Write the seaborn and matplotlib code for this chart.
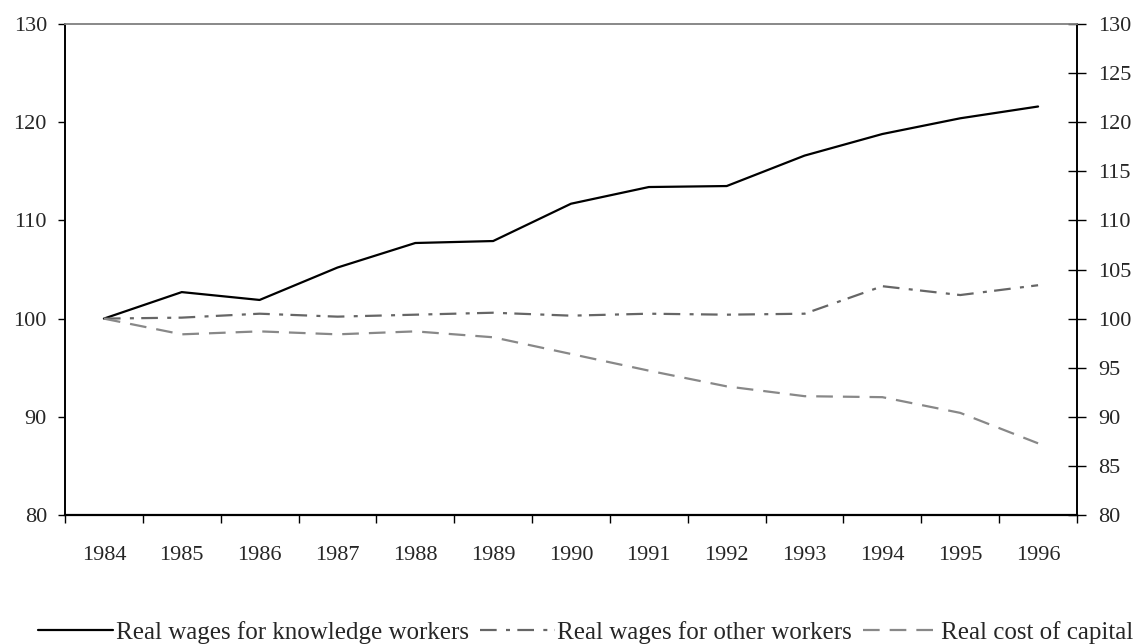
import matplotlib
matplotlib.use("Agg")
import matplotlib.pyplot as plt
import matplotlib.ticker as mticker
import numpy as np
import pandas as pd
import seaborn as sns

# data (index, 1984 = 100)
years = [1984, 1985, 1986, 1987, 1988, 1989, 1990, 1991, 1992, 1993, 1994, 1995, 1996]
knowledge = [100, 102.7, 101.9, 105.2, 107.7, 107.9, 111.7, 113.4, 113.5, 116.6, 118.8, 120.4, 121.6]
other = [100, 100.1, 100.5, 100.2, 100.4, 100.6, 100.3, 100.5, 100.4, 100.5, 103.3, 102.4, 103.4]
capital = [100, 98.4, 98.7, 98.4, 98.7, 98.1, 96.4, 94.7, 93.1, 92.1, 92.0, 90.4, 87.3]

labels = ["Real wages for knowledge workers", "Real wages for other workers", "Real cost of capital"]

df = pd.DataFrame({"year": years, "knowledge": knowledge, "other": other, "capital": capital})

sns.set_style("white")
plt.rcParams['font.family'] = ['Liberation Serif', 'DejaVu Serif']
plt.rcParams['font.size'] = 16

fig = plt.figure(figsize=(11.38, 6.44), dpi=100)
ax = fig.add_axes([0.0571, 0.2003, 0.8893, 0.7624])

sns.lineplot(data=df, x="year", y="knowledge", ax=ax, color="black", lw=1.6,
             label=labels[0])
sns.lineplot(data=df, x="year", y="other", ax=ax, color="#666666", lw=1.6,
             linestyle=(0, (7.5, 4.2, 1.8, 3.3)), label=labels[1])
sns.lineplot(data=df, x="year", y="capital", ax=ax, color="#888888", lw=1.6,
             linestyle=(0, (7.5, 4.5)), label=labels[2])

ax.set_xlim(years[0] - 0.5, years[-1] + 0.5)
ax.set_ylim(80, 130)
ax.set_xlabel("")
ax.set_ylabel("")

# x: labels at year centres, ticks on category boundaries
ax.set_xticks(years)
ax.set_xticklabels([str(y) for y in years])
ax.xaxis.set_minor_locator(mticker.FixedLocator(np.arange(years[0] - 0.5, years[-1] + 1, 1)))
ax.tick_params(axis="x", which="major", length=0, pad=22.5)
ax.tick_params(axis="x", which="minor", length=5.5, width=1, direction="out", color="black", bottom=True)

ax.set_yticks(np.arange(80, 131, 10))
ax.tick_params(axis="y", which="major", length=5, width=1, direction="out", color="black", left=True, pad=8)

ax2 = ax.twinx()
ax2.set_ylim(80, 130)
ax2.set_yticks(np.arange(80, 131, 5))
ax2.tick_params(axis="y", length=13, width=1, direction="inout", color="black", right=True, pad=8.5)

for a in (ax, ax2):
    a.spines["left"].set_color("black")
    a.spines["right"].set_color("black")
    a.spines["bottom"].set_color("black")
    a.spines["top"].set_color("#888888")
    for s in a.spines.values():
        s.set_linewidth(1.2)
ax.spines["bottom"].set_linewidth(1.6)

handles, labs = ax.get_legend_handles_labels()
ax.get_legend().remove()
fig.legend(handles, labs, loc="center", bbox_to_anchor=(0.5145, 0.0186), ncol=3,
           frameon=False, handlelength=3.0, handletextpad=0.1, columnspacing=0.45,
           borderpad=0, fontsize=18)

fig.savefig("out.png", dpi=100)
